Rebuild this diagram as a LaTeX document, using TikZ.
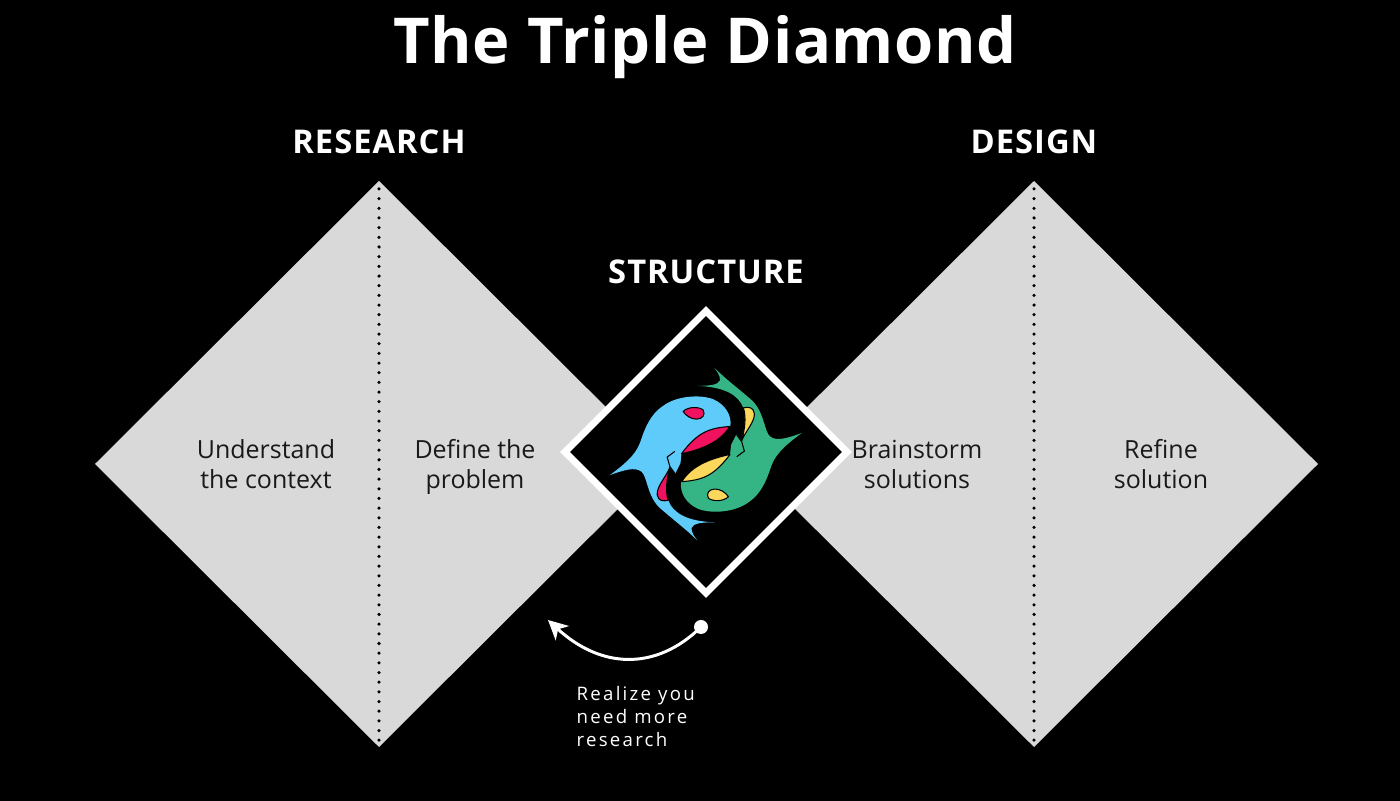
\documentclass[tikz,border=0pt]{standalone}
\usepackage{fontspec}
\setmainfont{Open Sans}
\usepackage{xcolor}
\usepackage{tikz}
\usetikzlibrary{arrows.meta}
\definecolor{diamondgray}{HTML}{D9D9D9}
\definecolor{fishblue}{HTML}{5FCBFA}
\definecolor{fishgreen}{HTML}{35B586}
\definecolor{fishpink}{HTML}{F0115F}
\definecolor{fishyellow}{HTML}{FBD75B}
\tikzset{
  phase/.style={text=white,font=\fontsize{9.3}{11}\selectfont\bfseries\addfontfeatures{LetterSpace=3}},
  body/.style={text=black!90,align=center,text height=5.6pt,text depth=1.6pt,font=\fontsize{7.1}{8.5}\selectfont},
  fishpart/.style={draw=black,line width=0.3pt,line join=round},
}
\begin{document}
\begin{tikzpicture}[x=0.01cm,y=-0.01cm]
\useasboundingbox[fill=black] (0,0) rectangle (1400,801);
%%%%% Big diamonds %%%%%
\foreach \nm/\cx in {research/379,design/1034}{
\fill[diamondgray] (\cx,181)--(\cx+284,464)--(\cx,747)--(\cx-284,464)--cycle;
\coordinate (\nm top) at (\cx,181);
\coordinate (\nm bottom) at (\cx,747);
\draw[black,line width=1pt,line cap=round,dash pattern=on 0pt off 2.75pt,dash phase=0.48pt] (\nm top)--(\nm bottom);
}
%%%%% Middle diamond %%%%%
\draw[fill=black,draw=white,line width=2pt,miter limit=4] (706,311)--(847,452)--(706,593)--(565,452)--cycle;
%%%%% Fish, second one is the first turned round %%%%%
\begin{scope}[shift={(560,300)},x=0.00333cm,y=-0.00333cm]
\foreach \ang/\bodycol/\partcol in {0/fishblue/fishpink,180/fishgreen/fishyellow}{
\begin{scope}[rotate around={\ang:(438,463)}]
\fill[\bodycol] (150,526) .. controls (185,500) and (225,470) .. (240,430)
 .. controls (255,385) and (270,345) .. (310,318)
 .. controls (350,288) and (420,283) .. (460,298)
 .. controls (495,313) and (517,345) .. (512,380)
 .. controls (460,385) and (415,395) .. (365,462)
 -- (362,490) -- (346,522) -- (330,503)
 .. controls (322,535) and (315,570) .. (325,602)
 .. controls (340,640) and (380,665) .. (465,668)
 .. controls (430,668) and (400,670) .. (395,685)
 .. controls (395,700) and (405,712) .. (412,722)
 .. controls (380,690) and (340,660) .. (300,625)
 .. controls (262,590) and (262,530) .. (245,516)
 .. controls (225,500) and (190,512) .. (150,526) -- cycle;
\draw[fishpart] (345,455) -- (322,472) -- (330,500) -- (346,522);
\draw[fishpart,fill=\partcol] (370,335) .. controls (385,320) and (415,320) .. (430,330)
 .. controls (438,345) and (428,358) .. (410,358) .. controls (395,358) and (378,348) .. (370,335) -- cycle;
\draw[fishpart,fill=\partcol] (510,380) .. controls (450,385) and (415,395) .. (365,462)
 .. controls (420,450) and (480,430) .. (510,380) -- cycle;
\draw[fishpart,fill=\partcol] (330,503) .. controls (320,530) and (290,560) .. (292,585)
 .. controls (295,605) and (310,605) .. (325,602) .. controls (315,570) and (322,535) .. (330,503) -- cycle;
\end{scope}
}
\end{scope}
%%%%% Labels %%%%%
\node[text=white,font=\fontsize{18}{20}\selectfont\bfseries\addfontfeatures{LetterSpace=1}] (title) at (705,47) {The Triple Diamond};
\node[phase] (research) at (379,142) {RESEARCH};
\node[phase] (design) at (1034,142) {DESIGN};
\node[phase] (structure) at (706,272) {STRUCTURE};
\node[body] (context) at (266,481) {Understand\\the context};
\node[body] (problem) at (475,481) {Define the\\problem};
\node[body] (brainstorm) at (917,481) {Brainstorm\\solutions};
\node[body] (refine) at (1161,481) {Refine\\solution};
%%%%% Loop back %%%%%
\node[circle,fill=white,inner sep=0pt,minimum size=0.14cm] (loopdot) at (701,627) {};
\coordinate (looptip) at (548,620);
\draw[white,line width=0.85pt,-{Stealth[length=5.5pt,width=5.5pt,inset=1.6pt]}] (loopdot.center) .. controls (655,672) and (600,668) .. (looptip);
\node[text=white,align=left,anchor=north west,inner sep=0pt,font=\fontsize{5.3}{6.5}\selectfont\addfontfeatures{LetterSpace=12}] (realize) at (576,686) {Realize you\\need more\\research};
\end{tikzpicture}
\end{document}
